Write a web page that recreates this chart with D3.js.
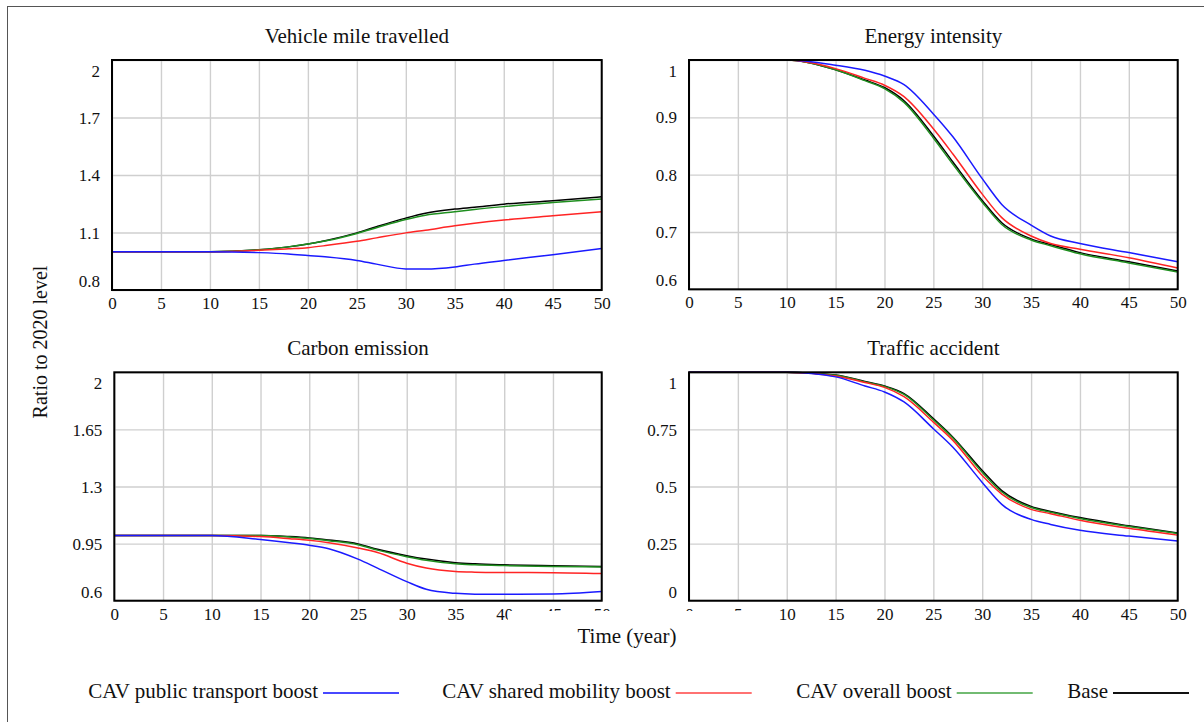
<!DOCTYPE html>
<html><head><meta charset="utf-8">
<script src="https://cdn.jsdelivr.net/npm/d3@7"></script>
<style>body{margin:0;background:#fff;} text{font-family:"Liberation Serif","Times New Roman",serif;fill:#111;}</style>
</head><body>
<svg id="c" width="1204" height="722"></svg>
<script>
const years = [0,5,10,15,18,20,22,25,27,30,32,35,37,40,45,50];
const seriesNames = ["CAV public transport boost","CAV shared mobility boost","CAV overall boost","Base"];
const xTicks = [0,5,10,15,20,25,30,35,40,45,50];

const vmtBlue  = [1.0,1.0,1.0,0.995,0.988,0.98,0.972,0.954,0.935,0.91,0.909,0.92,0.935,0.954,0.984,1.016];
const vmtRed   = [1.0,1.0,1.0,1.007,1.015,1.021,1.033,1.054,1.072,1.098,1.112,1.135,1.148,1.165,1.187,1.208];
const vmtGreen = [1.0,1.0,1.0,1.01,1.025,1.04,1.058,1.095,1.125,1.168,1.19,1.208,1.22,1.235,1.256,1.275];
const vmtBase  = [1.0,1.0,1.0,1.01,1.025,1.04,1.06,1.098,1.13,1.175,1.2,1.222,1.232,1.248,1.266,1.286];
const vmtTicks = [0.8,1.1,1.4,1.7,2];

const eiBlue  = [1.0,1.0,1.0,0.991,0.982,0.972,0.957,0.906,0.866,0.793,0.748,0.712,0.693,0.68,0.664,0.648];
const eiRed   = [1.0,1.0,1.0,0.985,0.968,0.956,0.936,0.88,0.836,0.766,0.725,0.693,0.68,0.67,0.655,0.637];
const eiGreen = [1.0,1.0,1.0,0.983,0.964,0.95,0.926,0.864,0.818,0.752,0.713,0.686,0.676,0.662,0.646,0.63];
const eiBase  = [1.0,1.0,1.0,0.983,0.965,0.952,0.929,0.868,0.822,0.755,0.716,0.688,0.678,0.664,0.648,0.632];
const eiTicks = [0.6,0.7,0.8,0.9,1];

const ceBlue  = [1.0,1.0,1.0,0.975,0.955,0.94,0.919,0.855,0.80,0.717,0.67,0.645,0.64,0.639,0.641,0.656];
const ceRed   = [1.0,1.0,1.0,0.993,0.98,0.97,0.955,0.923,0.895,0.83,0.80,0.779,0.775,0.773,0.772,0.767];
const ceGreen = [1.0,1.0,1.0,1.0,0.99,0.982,0.968,0.943,0.91,0.87,0.848,0.826,0.82,0.815,0.81,0.806];
const ceBase  = [1.0,1.0,1.0,1.0,0.993,0.985,0.972,0.948,0.915,0.876,0.855,0.833,0.826,0.82,0.814,0.81];
const ceTicks = [0.6,0.95,1.3,1.65,2];

const taBlue  = [1.0,1.0,1.0,0.98,0.94,0.914,0.87,0.753,0.672,0.518,0.422,0.356,0.334,0.308,0.283,0.261];
const taRed   = [1.0,1.0,1.0,0.984,0.955,0.934,0.893,0.782,0.702,0.548,0.467,0.40,0.381,0.352,0.317,0.287];
const taGreen = [1.0,1.0,1.0,0.987,0.958,0.938,0.903,0.792,0.712,0.562,0.476,0.408,0.387,0.36,0.325,0.294];
const taBase  = [1.0,1.0,1.0,0.988,0.96,0.94,0.907,0.797,0.716,0.57,0.482,0.413,0.391,0.364,0.328,0.296];
const taTicks = [0,0.25,0.5,0.75,1];

const lineColors = ["#1a1aff","#ff2424","#1f8f1f","#000000"];
const legendColors = ["#4848ff","#ff7272","#72bb72","#111111"];

const panels = [
  {title:"Vehicle mile travelled", x0:112, x1:601.7, y0:60, y1:290, ticks:vmtTicks, data:[vmtBlue,vmtRed,vmtGreen,vmtBase]},
  {title:"Energy intensity", x0:689, x1:1177.7, y0:60, y1:289.3, ticks:eiTicks, data:[eiBlue,eiRed,eiGreen,eiBase]},
  {title:"Carbon emission", x0:114.3, x1:601.7, y0:372.3, y1:600.7, ticks:ceTicks, data:[ceBlue,ceRed,ceGreen,ceBase]},
  {title:"Traffic accident", x0:689, x1:1177.7, y0:372.3, y1:600.7, ticks:taTicks, data:[taBlue,taRed,taGreen,taBase]}
];

const svg = d3.select("#c");
svg.append("rect").attr("x",7.5).attr("y",6.5).attr("width",1200).attr("height",720)
  .attr("fill","none").attr("stroke","#555").attr("stroke-width",1);

panels.forEach(p=>{
  const x = d3.scaleLinear().domain([0,50]).range([p.x0,p.x1]);
  const y = d3.scaleLinear().domain([d3.min(p.ticks),d3.max(p.ticks)]).range([p.y1,p.y0]);
  const g = svg.append("g");
  g.append("g").attr("transform",`translate(0,${p.y1})`)
    .call(d3.axisBottom(x).tickValues(xTicks).tickSize(-(p.y1-p.y0)).tickFormat(""))
    .call(a=>{a.select(".domain").remove(); a.selectAll("line").attr("stroke","#cfcfcf").attr("stroke-width",1.4);});
  g.append("g").attr("transform",`translate(${p.x0},0)`)
    .call(d3.axisLeft(y).tickValues(p.ticks).tickSize(-(p.x1-p.x0)).tickFormat(""))
    .call(a=>{a.select(".domain").remove(); a.selectAll("line").attr("stroke","#cfcfcf").attr("stroke-width",1.4);});
  g.append("g").attr("transform",`translate(0,${p.y1})`)
    .call(d3.axisBottom(x).tickValues(xTicks).tickSize(0).tickPadding(0).tickFormat(d3.format("d")))
    .call(a=>{a.select(".domain").remove(); a.selectAll("text").attr("dy",null).attr("y",19)
      .attr("font-size","17px").attr("font-family",'"Liberation Serif",serif').attr("fill","#111");});
  const yMin = d3.min(p.ticks), yMax = d3.max(p.ticks);
  g.append("g").attr("transform",`translate(${p.x0},0)`)
    .call(d3.axisLeft(y).tickValues(p.ticks).tickSize(0).tickPadding(12).tickFormat(d=>String(d)))
    .call(a=>{a.select(".domain").remove(); a.selectAll("text")
      .attr("dy",d=> d===yMax? "0.95em" : d===yMin ? "-0.2em" : "0.33em")
      .attr("font-size","17px").attr("font-family",'"Liberation Serif",serif').attr("fill","#111");});
  const line = d3.line().x((d,i)=>x(years[i])).y(d=>y(d)).curve(d3.curveMonotoneX);
  [3,2,1,0].forEach(si=>{
    g.append("path").datum(p.data[si]).attr("d",line).attr("fill","none")
      .attr("stroke",lineColors[si]).attr("stroke-width",1.5);
  });
  g.append("rect").attr("x",p.x0).attr("y",p.y0).attr("width",p.x1-p.x0).attr("height",p.y1-p.y0)
    .attr("fill","none").attr("stroke","#000").attr("stroke-width",2);
  svg.append("text").attr("x",(p.x0+p.x1)/2).attr("y",p.y0-17).attr("text-anchor","middle")
    .attr("font-size","21px").text(p.title);
});

svg.append("rect").attr("x",508).attr("y",611).attr("width",240).attr("height",40).attr("fill","#fff");
svg.append("text").attr("x",627).attr("y",643).attr("text-anchor","middle").attr("font-size","21px").text("Time (year)");
svg.append("text").attr("transform","translate(47,342) rotate(-90)").attr("text-anchor","middle").attr("font-size","20px").text("Ratio to 2020 level");

const legendEnds = [318,670.7,951.7,1108];
seriesNames.forEach((n,i)=>{
  svg.append("text").attr("x",legendEnds[i]).attr("y",698).attr("text-anchor","end").attr("font-size","21px").text(n);
  svg.append("line").attr("x1",legendEnds[i]+5).attr("x2",legendEnds[i]+81).attr("y1",693).attr("y2",693)
    .attr("stroke",legendColors[i]).attr("stroke-width",2);
});
</script>
</body></html>
